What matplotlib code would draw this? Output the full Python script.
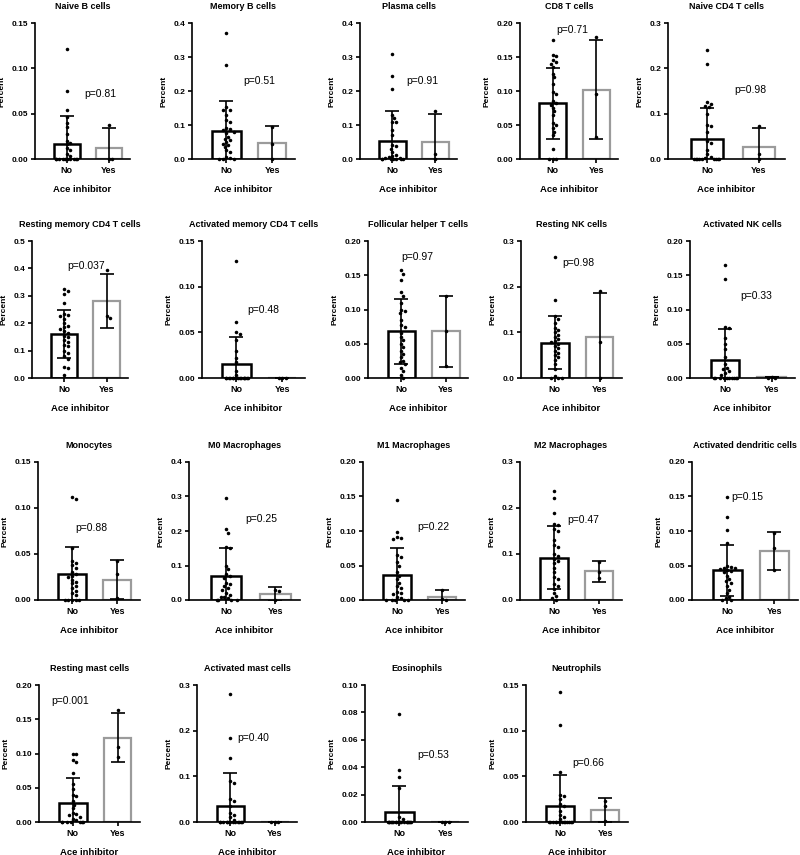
import numpy as np
import matplotlib
matplotlib.use("Agg")
import matplotlib.pyplot as plt

plt.rcParams['font.family'] = ['Liberation Sans', 'DejaVu Sans']

# cell types, p values and y axis tops
titles = ["Naive B cells", "Memory B cells", "Plasma cells", "CD8 T cells", "Naive CD4 T cells",
          "Resting memory CD4 T cells", "Activated memory CD4 T cells", "Follicular helper T cells",
          "Resting NK cells", "Activated NK cells",
          "Monocytes", "M0 Macrophages", "M1 Macrophages", "M2 Macrophages", "Activated dendritic cells",
          "Resting mast cells", "Activated mast cells", "Eosinophils", "Neutrophils"]
p_labels = ["p=0.81", "p=0.51", "p=0.91", "p=0.71", "p=0.98",
            "p=0.037", "p=0.48", "p=0.97", "p=0.98", "p=0.33",
            "p=0.88", "p=0.25", "p=0.22", "p=0.47", "p=0.15",
            "p=0.001", "p=0.40", "p=0.53", "p=0.66"]
y_max = [0.15, 0.4, 0.4, 0.20, 0.3,
         0.5, 0.15, 0.20, 0.3, 0.20,
         0.15, 0.4, 0.20, 0.3, 0.20,
         0.20, 0.3, 0.10, 0.15]
y_step = [0.05, 0.1, 0.1, 0.05, 0.1,
          0.1, 0.05, 0.05, 0.1, 0.05,
          0.05, 0.1, 0.05, 0.1, 0.05,
          0.05, 0.1, 0.02, 0.05]

# bar heights (mean) and SD
no_mean = [0.017, 0.082, 0.054, 0.082, 0.044, 0.160, 0.015, 0.068, 0.077, 0.026,
           0.028, 0.070, 0.036, 0.092, 0.043, 0.028, 0.036, 0.007, 0.017]
no_sd = [0.030, 0.089, 0.087, 0.052, 0.069, 0.087, 0.030, 0.047, 0.058, 0.046,
         0.030, 0.080, 0.040, 0.068, 0.037, 0.036, 0.071, 0.019, 0.035]
yes_mean = [0.012, 0.046, 0.051, 0.102, 0.026, 0.280, 0.0, 0.068, 0.089, 0.001,
            0.022, 0.018, 0.005, 0.062, 0.071, 0.123, 0.0, 0.0, 0.013]
yes_sd = [0.022, 0.051, 0.081, 0.073, 0.042, 0.098, 0.0, 0.052, 0.097, 0.0,
          0.021, 0.021, 0.009, 0.022, 0.027, 0.036, 0.0, 0.0, 0.013]

# individual samples
no_pts = [
    [0.121, 0.075, 0.054, 0.046, 0.040, 0.035, 0.028, 0.020, 0.018, 0.016, 0.012, 0.010, 0.006, 0.003,
     0, 0, 0, 0, 0, 0, 0, 0, 0, 0, 0],
    [0.372, 0.275, 0.152, 0.145, 0.143, 0.130, 0.115, 0.110, 0.090, 0.088, 0.085, 0.080, 0.075, 0.065,
     0.060, 0.055, 0.050, 0.045, 0.040, 0.035, 0.025, 0.020, 0.005, 0.003, 0, 0, 0],
    [0.310, 0.245, 0.205, 0.130, 0.120, 0.110, 0.108, 0.085, 0.070, 0.040, 0.038, 0.030, 0.020, 0.012,
     0.008, 0.005, 0.003, 0.002, 0, 0, 0, 0, 0, 0, 0],
    [0.175, 0.153, 0.151, 0.145, 0.143, 0.140, 0.135, 0.125, 0.120, 0.110, 0.098, 0.095, 0.085, 0.083,
     0.080, 0.075, 0.070, 0.065, 0.053, 0.050, 0.045, 0.040, 0.035, 0.015, 0, 0, 0],
    [0.240, 0.210, 0.125, 0.122, 0.118, 0.115, 0.100, 0.075, 0.073, 0.060, 0.040, 0.035, 0.020, 0.010,
     0.005, 0.003, 0, 0, 0, 0, 0, 0, 0, 0, 0],
    [0.325, 0.318, 0.305, 0.275, 0.235, 0.230, 0.225, 0.215, 0.200, 0.190, 0.185, 0.180, 0.170, 0.165,
     0.155, 0.150, 0.140, 0.130, 0.120, 0.115, 0.100, 0.090, 0.080, 0.070, 0.040, 0.035, 0.010],
    [0.128, 0.061, 0.050, 0.048, 0.042, 0.030, 0.022, 0.018, 0.008, 0.003,
     0, 0, 0, 0, 0, 0, 0, 0, 0, 0, 0, 0, 0, 0, 0],
    [0.157, 0.152, 0.143, 0.125, 0.120, 0.110, 0.100, 0.098, 0.095, 0.085, 0.078, 0.075, 0.066, 0.060,
     0.055, 0.050, 0.045, 0.040, 0.035, 0.030, 0.025, 0.023, 0.020, 0.015, 0.010, 0.005, 0.0],
    [0.265, 0.170, 0.135, 0.130, 0.120, 0.110, 0.105, 0.100, 0.095, 0.090, 0.085, 0.080, 0.078, 0.075,
     0.070, 0.065, 0.060, 0.055, 0.050, 0.045, 0.040, 0.030, 0.020, 0.005, 0, 0, 0],
    [0.165, 0.145, 0.075, 0.073, 0.058, 0.050, 0.043, 0.030, 0.020, 0.015, 0.013, 0.010, 0.008, 0.005,
     0, 0, 0, 0, 0, 0, 0, 0, 0, 0, 0],
    [0.112, 0.110, 0.057, 0.042, 0.040, 0.038, 0.035, 0.030, 0.028, 0.026, 0.025, 0.022, 0.020, 0.018,
     0.015, 0.013, 0.010, 0.008, 0.005, 0, 0, 0, 0, 0],
    [0.295, 0.205, 0.195, 0.155, 0.150, 0.100, 0.090, 0.075, 0.070, 0.065, 0.050, 0.045, 0.040, 0.035,
     0.030, 0.020, 0.015, 0.010, 0.008, 0.005, 0, 0, 0, 0],
    [0.145, 0.099, 0.091, 0.090, 0.088, 0.065, 0.062, 0.055, 0.050, 0.040, 0.035, 0.030, 0.025, 0.020,
     0.018, 0.012, 0.010, 0.008, 0.005, 0.003, 0, 0, 0, 0, 0],
    [0.238, 0.222, 0.190, 0.165, 0.162, 0.155, 0.150, 0.130, 0.120, 0.115, 0.100, 0.095, 0.090, 0.085,
     0.080, 0.070, 0.060, 0.050, 0.045, 0.035, 0.030, 0.025, 0.015, 0.008, 0.005, 0],
    [0.150, 0.120, 0.102, 0.082, 0.050, 0.048, 0.047, 0.046, 0.045, 0.044, 0.042, 0.040, 0.035, 0.030,
     0.028, 0.025, 0.020, 0.015, 0.010, 0.005, 0.003, 0, 0],
    [0.100, 0.100, 0.090, 0.088, 0.072, 0.055, 0.048, 0.040, 0.038, 0.030, 0.025, 0.020, 0.013, 0.012,
     0.010, 0.008, 0.005, 0.003, 0, 0, 0, 0, 0, 0, 0],
    [0.280, 0.185, 0.140, 0.090, 0.085, 0.050, 0.045, 0.035, 0.020, 0.015, 0.010, 0.005,
     0, 0, 0, 0, 0, 0, 0, 0, 0, 0, 0, 0, 0],
    [0.079, 0.038, 0.033, 0.025, 0.004, 0.002,
     0, 0, 0, 0, 0, 0, 0, 0, 0, 0, 0, 0, 0, 0, 0, 0, 0, 0, 0],
    [0.142, 0.106, 0.055, 0.030, 0.028, 0.025, 0.020, 0.018, 0.012, 0.008, 0.005, 0.003,
     0, 0, 0, 0, 0, 0, 0, 0, 0, 0, 0, 0, 0],
]
yes_pts = [
    [0.037, 0.0, 0.0], [0.095, 0.045, 0.0], [0.140, 0.015, 0.0], [0.180, 0.095, 0.033],
    [0.072, 0.010, 0.0], [0.395, 0.225, 0.220], [0.0, 0.0, 0.0], [0.120, 0.068, 0.017],
    [0.190, 0.078, 0.0], [0.0, 0.001, 0.0], [0.042, 0.028, 0.002], [0.030, 0.025, 0.0],
    [0.014, 0.002, 0.0], [0.083, 0.060, 0.048], [0.097, 0.075, 0.043], [0.163, 0.110, 0.095],
    [0.0, 0.0, 0.0], [0.0, 0.0, 0.0], [0.023, 0.018, 0.001],
]
groups = ["No", "Yes"]

# ---- layout (pixels on an 800x855 canvas) ----
W, H = 800, 855
row_tb = [(23, 159), (241, 378), (462, 600), (685, 822)]
col_lr = [[(35, 130), (192, 295), (360, 457), (520, 618), (668, 785)],
          [(32, 128), (202, 305), (368, 468), (521, 622), (690, 795)],
          [(38, 140), (189, 300), (363, 465), (520, 622), (692, 798)],
          [(39, 140), (197, 297), (365, 468), (526, 628)]]
p_pos = [(0.52, 0.48), (0.50, 0.57), (0.48, 0.57), (0.37, 0.95), (0.57, 0.51),
         (0.37, 0.82), (0.44, 0.50), (0.33, 0.88), (0.41, 0.84), (0.48, 0.60),
         (0.37, 0.52), (0.51, 0.59), (0.53, 0.53), (0.46, 0.58), (0.37, 0.75),
         (0.12, 0.88), (0.40, 0.61), (0.51, 0.49), (0.45, 0.43)]
XLO, XHI = -0.75, 1.5
BW = 0.62
GREY = "#9b9b9b"


def swarm(vals, ymax, h_px, d_px, max_px):
    # simple beeswarm: place points (in pixel units) so dots do not overlap
    v = np.asarray(vals, float)
    ypx = v / ymax * h_px
    order = np.argsort(-ypx, kind="stable")
    xs = np.zeros(len(v))
    placed = []
    for i in order:
        cand = [0.0]
        for m in range(1, 40):
            cand += [m * d_px * 0.5, -m * d_px * 0.5]
        best = None
        for c in cand:
            if abs(c) > max_px:
                break
            if all((c - xs[j]) ** 2 + (ypx[i] - ypx[j]) ** 2 >= d_px ** 2 for j in placed):
                best = c
                break
        if best is None:
            # no room left: squeeze in along the row
            row = [j for j in placed if abs(ypx[i] - ypx[j]) < d_px]
            best = ((len(row) % 2) * 2 - 1) * ((len(row) * 1.3) % max_px)
        xs[i] = best
        placed.append(i)
    return xs


fig = plt.figure(figsize=(W / 100, H / 100), dpi=100)

k = 0
for r, cols in enumerate(col_lr):
    top, bot = row_tb[r]
    for (lft, rgt) in cols:
        ax = fig.add_axes([lft / W, 1 - bot / H, (rgt - lft) / W, (bot - top) / H])
        px_unit = (rgt - lft) / (XHI - XLO)
        h_px = bot - top

        ax.bar(0, no_mean[k], width=BW, facecolor="white", edgecolor="black", linewidth=1.8, zorder=2)
        ax.bar(1, yes_mean[k], width=BW, facecolor="white", edgecolor=GREY, linewidth=1.6, zorder=2)
        ax.errorbar([0, 1], [no_mean[k], yes_mean[k]], yerr=[no_sd[k], yes_sd[k]], fmt="none",
                    ecolor="black", elinewidth=1.2, capsize=5, capthick=1.2, zorder=3)

        for xc, pts in ((0, no_pts[k]), (1, yes_pts[k])):
            dx = swarm(pts, y_max[k], h_px, 3.6, BW * px_unit / 2 - 2) / px_unit
            ax.scatter(xc + dx, pts, s=6.5, color="black", zorder=4, clip_on=False, linewidths=0)

        ax.set_xlim(XLO, XHI)
        ax.set_ylim(0, y_max[k])
        ticks = np.arange(0, y_max[k] + y_step[k] / 2, y_step[k])
        dec = 2 if y_step[k] < 0.1 else 1
        ax.set_yticks(ticks)
        ax.set_yticklabels([f"{t:.{dec}f}" for t in ticks])
        ax.set_xticks([0, 1])
        ax.set_xticklabels(groups)
        for s in ("top", "right"):
            ax.spines[s].set_visible(False)
        for s in ("left", "bottom"):
            ax.spines[s].set_linewidth(1.2)
        ax.tick_params(width=1.2, length=3, labelsize=6, pad=2)
        for lab in ax.get_xticklabels() + ax.get_yticklabels():
            lab.set_fontweight("bold")
        for lab in ax.get_xticklabels():
            lab.set_fontsize(6.5)
        ax.set_ylabel("Percent", fontsize=6, fontweight="bold", labelpad=4)
        ax.set_xlabel("Ace inhibitor", fontsize=6.8, fontweight="bold", labelpad=7)
        ax.set_title(titles[k], fontsize=6.5, fontweight="bold", pad=10)
        ax.text(p_pos[k][0], p_pos[k][1], p_labels[k], transform=ax.transAxes, fontsize=7.5,
                ha="left", va="center")
        k += 1

fig.savefig("out.png", dpi=100, facecolor="white")
